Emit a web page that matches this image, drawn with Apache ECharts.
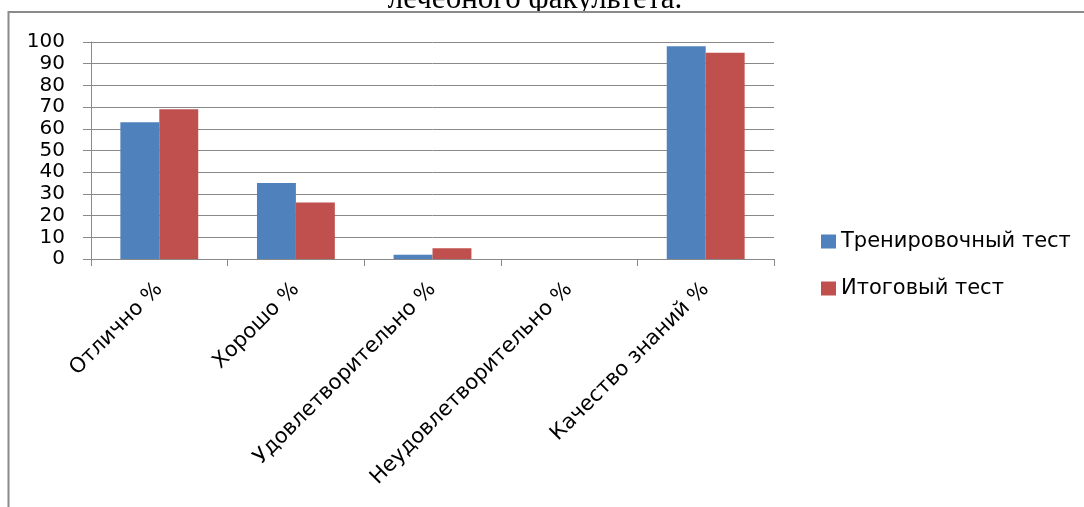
<!DOCTYPE html>
<html>
<head>
<meta charset="utf-8">
<script src="https://cdn.jsdelivr.net/npm/echarts@6/dist/echarts.min.js"></script>
<style>
  html, body { margin: 0; padding: 0; background: #ffffff; }
  #chart { width: 1084px; height: 507px; }
</style>
</head>
<body>
<div id="chart"></div>
<script>
// Результаты тестирования студентов лечебного факультета
const categories = ['Отлично %', 'Хорошо %', 'Удовлетворительно %', 'Неудовлетворительно %', 'Качество знаний %'];
const trainingTest = [63, 35, 2, 0, 98];
const finalTest = [69, 26, 5, 0, 95];
const seriesNames = ['Тренировочный тест', 'Итоговый тест'];
const yTicks = { min: 0, max: 100, interval: 10 };

const FONT = '"DejaVu Sans", sans-serif';
const GRID_COLOR = '#898989';

const chart = echarts.init(document.getElementById('chart'), null, { renderer: 'canvas' });

chart.setOption({
  animation: false,
  backgroundColor: '#ffffff',
  graphic: [
    {
      // line of the surrounding document text, partly hidden by the chart area
      type: 'text',
      style: {
        text: 'лечебного факультета.',
        x: 535,
        y: 15,
        align: 'center',
        verticalAlign: 'bottom',
        font: '31px "Liberation Serif", serif',
        fill: '#000000'
      },
      silent: true
    },
    {
      // chart area: white fill with a grey border (left and top edges visible)
      type: 'rect',
      shape: { x: 8.5, y: 12, width: 1300, height: 700 },
      style: { fill: '#ffffff', stroke: '#8a8a8a', lineWidth: 2 },
      silent: true
    }
  ],
  grid: { left: 91, right: 310, top: 42, bottom: 248, containLabel: false },
  legend: {
    orient: 'vertical',
    left: 816,
    top: 226,
    itemWidth: 15,
    itemHeight: 14,
    itemGap: 26,
    icon: 'rect',
    textStyle: { fontFamily: FONT, fontSize: 21, lineHeight: 21, color: '#000000' },
    data: seriesNames
  },
  xAxis: {
    type: 'category',
    data: categories,
    axisLine: { lineStyle: { color: GRID_COLOR, width: 1 } },
    axisTick: { show: true, length: 7, lineStyle: { color: GRID_COLOR } },
    axisLabel: {
      rotate: 45,
      interval: 0,
      margin: 27,
      fontFamily: FONT,
      fontSize: 21,
      color: '#000000'
    }
  },
  yAxis: {
    type: 'value',
    min: yTicks.min,
    max: yTicks.max,
    interval: yTicks.interval,
    axisLine: { show: true, lineStyle: { color: GRID_COLOR, width: 1 } },
    axisTick: { show: true, length: 8, lineStyle: { color: GRID_COLOR } },
    splitLine: { show: true, lineStyle: { color: GRID_COLOR, width: 1 } },
    axisLabel: {
      margin: 26,
      fontFamily: FONT,
      fontSize: 20,
      color: '#000000'
    }
  },
  series: [
    {
      name: seriesNames[0],
      type: 'bar',
      data: trainingTest,
      barGap: '0%',
      barCategoryGap: '43%',
      itemStyle: { color: '#4F81BD' }
    },
    {
      name: seriesNames[1],
      type: 'bar',
      data: finalTest,
      barGap: '0%',
      barCategoryGap: '43%',
      itemStyle: { color: '#C0504D' }
    }
  ]
});
</script>
</body>
</html>
